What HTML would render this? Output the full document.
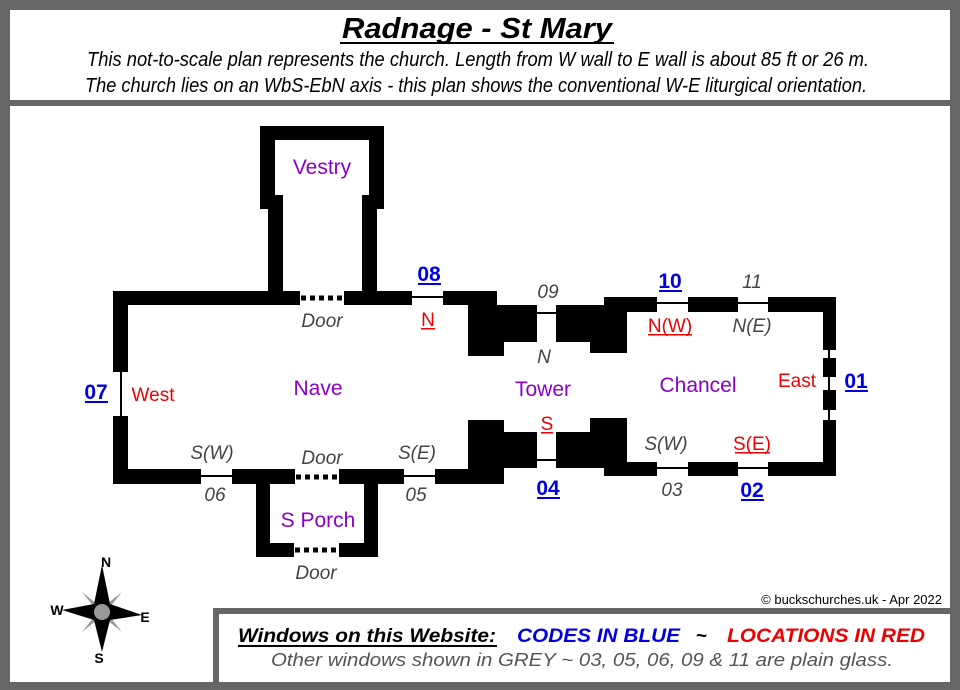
<!DOCTYPE html>
<html><head><meta charset="utf-8"><style>
html,body{margin:0;padding:0;background:#fff}
svg{display:block}
text{font-family:"Liberation Sans",Arial,sans-serif}
</style></head><body>
<svg width="960" height="690" viewBox="0 0 960 690" xmlns="http://www.w3.org/2000/svg">
<rect x="0" y="0" width="960" height="690" fill="#666"/>
<rect x="10" y="10" width="940" height="90" fill="#fff"/>
<rect x="10" y="106" width="940" height="576" fill="#fff"/>

<!-- header -->
<text x="477" y="38" font-size="29" font-weight="bold" font-style="italic" text-anchor="middle" textLength="270" lengthAdjust="spacingAndGlyphs">Radnage  -  St Mary</text>
<rect x="340" y="42" width="274" height="2" fill="#000"/>
<text x="478" y="66" font-size="20" font-style="italic" text-anchor="middle" textLength="782" lengthAdjust="spacingAndGlyphs">This not-to-scale plan represents the church.   Length from W wall to E wall is about 85 ft or 26 m.</text>
<text x="476" y="92" font-size="20" font-style="italic" text-anchor="middle" textLength="782" lengthAdjust="spacingAndGlyphs">The church lies on an WbS-EbN axis - this plan shows the conventional W-E liturgical orientation.</text>

<g fill="#000">
<rect x="260" y="126" width="124" height="14"/>
<rect x="260" y="126" width="15" height="83"/>
<rect x="268" y="195" width="15" height="110"/>
<rect x="369" y="126" width="15" height="83"/>
<rect x="362" y="195" width="15" height="110"/>
<rect x="113" y="291" width="187" height="14"/>
<rect x="344" y="291" width="68" height="14"/>
<rect x="443" y="291" width="54" height="14"/>
<rect x="113" y="291" width="15" height="81"/>
<rect x="113" y="416" width="15" height="68"/>
<rect x="113" y="469" width="88" height="15"/>
<rect x="232" y="469" width="63" height="15"/>
<rect x="339" y="469" width="65" height="15"/>
<rect x="435" y="469" width="62" height="15"/>
<rect x="256" y="469" width="14" height="88"/>
<rect x="256" y="543" width="38" height="14"/>
<rect x="364" y="469" width="14" height="88"/>
<rect x="339" y="543" width="39" height="14"/>
<rect x="468" y="305" width="36" height="51"/>
<rect x="468" y="305" width="69" height="37"/>
<rect x="556" y="305" width="71" height="37"/>
<rect x="590" y="305" width="37" height="48"/>
<rect x="604" y="297" width="53" height="15"/>
<rect x="468" y="420" width="36" height="64"/>
<rect x="468" y="432" width="69" height="36"/>
<rect x="556" y="432" width="48" height="36"/>
<rect x="590" y="418" width="37" height="50"/>
<rect x="604" y="462" width="53" height="14"/>
<rect x="688" y="297" width="50" height="15"/>
<rect x="768" y="297" width="68" height="15"/>
<rect x="823" y="297" width="13" height="53"/>
<rect x="823" y="358" width="13" height="19"/>
<rect x="823" y="390" width="13" height="20"/>
<rect x="823" y="420" width="13" height="56"/>
<rect x="688" y="462" width="50" height="14"/>
<rect x="768" y="462" width="68" height="14"/>
</g>
<g stroke="#000" stroke-width="2">
<line x1="412" y1="297" x2="443" y2="297"/>
<line x1="121" y1="372" x2="121" y2="416"/>
<line x1="201" y1="476" x2="232" y2="476"/>
<line x1="404" y1="476" x2="435" y2="476"/>
<line x1="537" y1="313" x2="556" y2="313"/>
<line x1="537" y1="460" x2="556" y2="460"/>
<line x1="657" y1="303" x2="688" y2="303"/>
<line x1="738" y1="303" x2="768" y2="303"/>
<line x1="657" y1="468" x2="688" y2="468"/>
<line x1="738" y1="468" x2="768" y2="468"/>
<line x1="829" y1="350" x2="829" y2="358"/>
<line x1="829" y1="377" x2="829" y2="390"/>
<line x1="829" y1="410" x2="829" y2="420"/>
</g>
<g stroke="#000" stroke-width="5" stroke-dasharray="5,4">
<line x1="301" y1="298" x2="344" y2="298"/>
<line x1="296" y1="477" x2="339" y2="477"/>
<line x1="295" y1="550" x2="339" y2="550"/>
</g>

<g font-size="21" fill="#8a00c8" text-anchor="middle">
<text x="322" y="174">Vestry</text>
<text x="318" y="395">Nave</text>
<text x="543" y="396">Tower</text>
<text x="698" y="392">Chancel</text>
<text x="318" y="527">S Porch</text>
</g>
<g font-size="19" fill="#444" font-style="italic" text-anchor="middle">
<text x="322" y="327">Door</text>
<text x="322" y="464">Door</text>
<text x="316" y="579">Door</text>
<text x="212" y="459">S(W)</text>
<text x="417" y="459">S(E)</text>
<text x="215" y="501">06</text>
<text x="416" y="501">05</text>
<text x="548" y="298">09</text>
<text x="544" y="363">N</text>
<text x="752" y="288">11</text>
<text x="752" y="332">N(E)</text>
<text x="666" y="450">S(W)</text>
<text x="672" y="496">03</text>
</g>
<g font-size="19" fill="#e00" text-anchor="middle">
<text x="153" y="401">West</text>
<text x="797" y="387">East</text>
<text x="428" y="326">N</text>
<text x="547" y="430">S</text>
<text x="670" y="332">N(W)</text>
<text x="752" y="450">S(E)</text>
</g>
<g fill="#e00">
<rect x="421" y="328" width="14" height="1.5"/>
<rect x="541" y="432" width="12" height="1.5"/>
<rect x="648" y="334" width="44" height="1.5"/>
<rect x="735" y="452" width="35" height="1.5"/>
</g>
<g font-size="21" fill="#0000e0" font-weight="bold" text-anchor="middle">
<text x="429" y="281">08</text>
<text x="96" y="399">07</text>
<text x="670" y="288">10</text>
<text x="856" y="388">01</text>
<text x="548" y="495">04</text>
<text x="752" y="497">02</text>
</g>
<g fill="#0000e0">
<rect x="418" y="283" width="23" height="2"/>
<rect x="85" y="401" width="23" height="2"/>
<rect x="659" y="290" width="23" height="2"/>
<rect x="845" y="390" width="23" height="2"/>
<rect x="537" y="497" width="23" height="2"/>
<rect x="741" y="499" width="23" height="2"/>
</g>

<g transform="translate(102,612)">
<polygon points="0,-4 20,-20 4,0 20,20 0,4 -20,20 -4,0 -20,-20" fill="#999"/>
<polygon points="0,-47 8,-8 0,0 -8,-8" fill="#000"/>
<polygon points="0,40 8,8 0,0 -8,8" fill="#000"/>
<polygon points="-40,-2 -8,-8 0,0 -8,8" fill="#000"/>
<polygon points="40,3 8,-8 0,0 8,8" fill="#000"/>
<circle cx="0" cy="0" r="8" fill="#999"/>
</g>
<g font-size="14" font-weight="bold" text-anchor="middle">
<text x="106" y="567">N</text>
<text x="57" y="615">W</text>
<text x="145" y="622">E</text>
<text x="99" y="663">S</text>
</g>

<text x="942" y="604" font-size="13" text-anchor="end">© buckschurches.uk - Apr 2022</text>

<rect x="213" y="608" width="747" height="82" fill="#666"/>
<rect x="219" y="614" width="731" height="68" fill="#fff"/>
<text x="238" y="642" font-size="19" font-weight="bold" font-style="italic" textLength="258" lengthAdjust="spacingAndGlyphs">Windows on this Website:</text>
<rect x="238" y="645" width="259" height="2" fill="#000"/>
<text x="517" y="642" font-size="19" font-weight="bold" font-style="italic" fill="#0000e0" textLength="163" lengthAdjust="spacingAndGlyphs">CODES IN BLUE</text>
<text x="696" y="642" font-size="19" font-weight="bold" fill="#000">~</text>
<text x="727" y="642" font-size="19" font-weight="bold" font-style="italic" fill="#e00" textLength="198" lengthAdjust="spacingAndGlyphs">LOCATIONS IN RED</text>
<text x="271" y="666" font-size="18" font-style="italic" fill="#555" textLength="622" lengthAdjust="spacingAndGlyphs">Other windows shown in GREY   ~   03, 05, 06, 09 &amp; 11 are plain glass.</text>
</svg>
</body></html>
